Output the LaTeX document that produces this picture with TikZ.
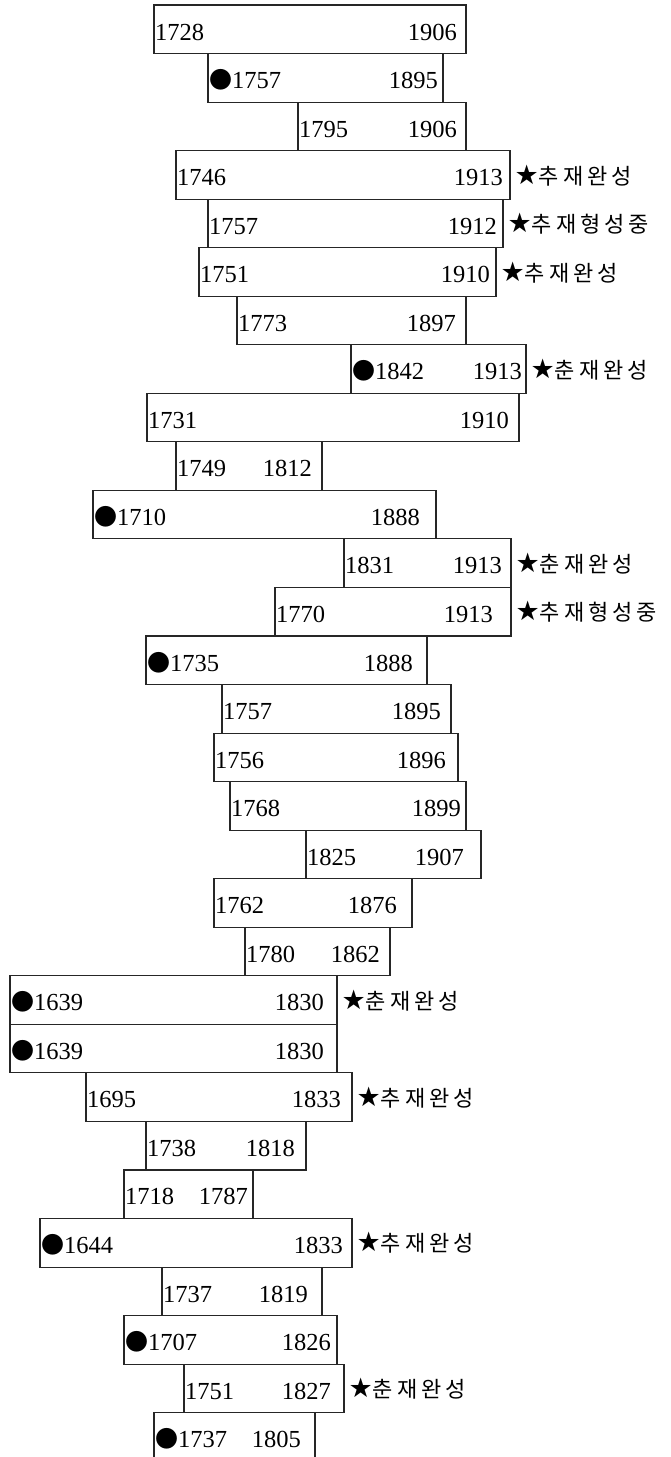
\documentclass[tikz,border=0pt]{standalone}
\usepackage{fontspec}
\setmainfont{Liberation Serif}
\newfontfamily\cjk{Noto Sans CJK KR}
\newfontfamily\cjkspaced[LetterSpace=18]{Noto Sans CJK KR}
\newfontfamily\symf{DejaVu Sans}
% filled marker in front of a start year
\newcommand\dotm{{\cjk\fontsize{23}{23}\selectfont ●}}
\begin{document}
\begin{tikzpicture}[x=1pt,y=-1pt,
  bar/.style={draw=black!85, line width=1.1pt, inner sep=0pt, outer sep=0pt,
    anchor=north west, minimum height=48.54pt},
  yr/.style={inner sep=0pt, font=\fontsize{24.5}{24.5}\selectfont},
  note/.style={inner sep=0pt, anchor=base west}]
\useasboundingbox (0,0) rectangle (671,1457);
% row / left edge / right edge / start label / end of right label / end year
\foreach \i/\l/\r/\a/\e/\b in {
  1/154/466/1728/456/1906,
  2/208/443/\dotm1757/437/1895,
  3/298/466/1795/456/1906,
  4/176/510/1746/502/1913,
  5/208/503/1757/496/1912,
  6/199/496/1751/489/1910,
  7/237/466/1773/455/1897,
  8/351/526/\dotm1842/521/1913,
  9/147/519/1731/508/1910,
  10/176/322/1749/311/1812,
  11/93/436/\dotm1710/419/1888,
  12/344/511/1831/501/1913,
  13/275/511/1770/492/1913,
  14/146/427/\dotm1735/412/1888,
  15/222/451/1757/440/1895,
  16/214/458/1756/445/1896,
  17/230/466/1768/460/1899,
  18/306/481/1825/463/1907,
  19/214/412/1762/396/1876,
  20/245/390/1780/379/1862,
  21/10/337/\dotm1639/323/1830,
  22/10/337/\dotm1639/323/1830,
  23/86/352/1695/340/1833,
  24/146/306/1738/294/1818,
  25/124/253/1718/247/1787,
  26/40/352/\dotm1644/342/1833,
  27/162/322/1737/307/1819,
  28/124/337/\dotm1707/330/1826,
  29/184/344/1751/330/1827,
  30/154/315/\dotm1737/300/1805}{
  \pgfmathsetmacro\t{5+48.54*(\i-1)}
  \node[bar, minimum width={(\r-\l)*1pt}] (r\i) at (\l,\t) {};
  \node[yr, anchor=base west] (a\i) at (\l+1,\t+35) {\a};
  \node[yr, anchor=base east] (b\i) at (\e+1,\t+35) {\b};
}
% remarks beside some rows
\foreach \i/\n in {4/추재완성, 5/추재형성중, 6/추재완성, 8/춘재완성,
  12/춘재완성, 13/추재형성중, 21/춘재완성, 23/추재완성, 26/추재완성, 29/춘재완성}{
  \node[note] (n\i) at ([xshift=4.5pt,yshift=-9.2pt]r\i.east)
    {{\symf\fontsize{27}{27}\selectfont ★}{\cjkspaced\fontsize{22}{22}\selectfont\n}};
}
\end{tikzpicture}
\end{document}
